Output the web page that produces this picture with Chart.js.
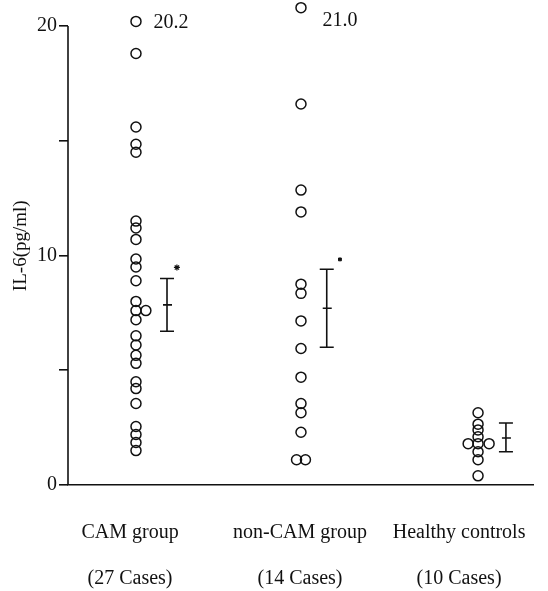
<!DOCTYPE html>
<html>
<head>
<meta charset="utf-8">
<script src="https://cdn.jsdelivr.net/npm/chart.js@4.4.1/dist/chart.umd.min.js"></script>
<style>
    html, body { margin: 0; padding: 0; background: #fff; }
    #wrap { width: 548px; height: 591px; }
</style>
</head>
<body>
<div id="wrap"><canvas id="il6-chart" width="548" height="591"></canvas></div>
<script>
// group names and case counts (x axis)
const groupNames = ['CAM group', 'non-CAM group', 'Healthy controls'];
const groupCases = ['(27 Cases)', '(14 Cases)', '(10 Cases)'];
const labelX = [0.964, 1.994, 2.958];

// IL-6 values (pg/ml)
const camValues = [20.2, 18.8, 15.6, 14.85, 14.5, 11.5, 11.2, 10.7, 9.85, 9.5, 8.9,
    8.0, 7.6, 7.2, 7.6, 6.5, 6.1, 5.65, 5.3, 4.5, 4.2, 3.55, 2.55, 2.2, 1.85, 1.5];
const camShift = [0, 0, 0, 0, 0, 0, 0, 0, 0, 0, 0, 0, 0, 0, 0.06, 0, 0, 0, 0, 0, 0, 0, 0, 0, 0, 0];
const nonCamValues = [20.8, 16.6, 12.85, 11.9, 8.75, 8.35, 7.15, 5.95, 4.7, 3.55, 3.15, 2.3, 1.1, 1.1];
const nonCamShift = [0, 0, 0, 0, 0, 0, 0, 0, 0, 0, 0, 0, -0.027, 0.027];
const healthyValues = [3.15, 2.65, 2.4, 2.1, 1.8, 1.8, 1.8, 1.45, 1.1, 0.4];
const healthyShift = [0, 0, 0, 0, -0.06, 0, 0.067, 0, 0, 0];
const groupX = [1, 2, 3.073];

// mean +- SE bars
const errX = [1.188, 2.156, 3.242];
const meanVals = [7.85, 7.7, 2.05];
const upperVals = [9.0, 9.4, 2.7];
const lowerVals = [6.7, 6.0, 1.45];

// significance marks
const markX = [1.248, 2.236];
const markY = [9.48, 9.83];

// out of range values written next to the top points
const topTextX = [1.212, 2.236];
const topTextY = [20.15, 20.25];
const topTexts = ['20.2', '21.0'];

const yTicks = [0, 5, 10, 15, 20];
const yAxisTop = 20;
const FONT = "'Liberation Serif', 'DejaVu Serif', serif";

function toPoints(values, shift, x) {
    return values.map((v, i) => ({ x: x + shift[i], y: v }));
}

const errorBarPlugin = {
    id: 'errorBars',
    afterDatasetsDraw(chart) {
        const ctx = chart.ctx;
        const xs = chart.scales.x;
        const ys = chart.scales.y;
        ctx.save();
        ctx.strokeStyle = '#111';
        ctx.lineWidth = 1.6;
        // y axis line only up to 20
        ctx.beginPath();
        ctx.moveTo(xs.left, ys.getPixelForValue(0));
        ctx.lineTo(xs.left, ys.getPixelForValue(yAxisTop));
        ctx.stroke();
        for (let i = 0; i < errX.length; i++) {
            const px = xs.getPixelForValue(errX[i]);
            const top = ys.getPixelForValue(upperVals[i]);
            const bot = ys.getPixelForValue(lowerVals[i]);
            const mid = ys.getPixelForValue(meanVals[i]);
            ctx.beginPath();
            ctx.moveTo(px, top); ctx.lineTo(px, bot);
            ctx.moveTo(px - 7, top); ctx.lineTo(px + 7, top);
            ctx.moveTo(px - 7, bot); ctx.lineTo(px + 7, bot);
            ctx.moveTo(px - 4, mid); ctx.lineTo(px + 5, mid);
            ctx.stroke();
        }
        // values above the axis top
        ctx.fillStyle = '#111';
        ctx.font = '20px ' + FONT;
        ctx.textAlign = 'center';
        ctx.textBaseline = 'middle';
        for (let i = 0; i < topTexts.length; i++) {
            ctx.fillText(topTexts[i], xs.getPixelForValue(topTextX[i]), ys.getPixelForValue(topTextY[i]));
        }
        ctx.restore();
    }
};

const circleStyle = {
    pointStyle: 'circle',
    pointRadius: 5,
    pointHoverRadius: 5,
    borderColor: '#111',
    backgroundColor: 'rgba(0,0,0,0)',
    pointBorderWidth: 1.5,
    showLine: false,
    clip: false
};

new Chart(document.getElementById('il6-chart'), {
    type: 'scatter',
    data: {
        datasets: [
            { label: groupNames[0], data: toPoints(camValues, camShift, groupX[0]), ...circleStyle },
            { label: groupNames[1], data: toPoints(nonCamValues, nonCamShift, groupX[1]), ...circleStyle },
            { label: groupNames[2], data: toPoints(healthyValues, healthyShift, groupX[2]), ...circleStyle },
            {
                label: 'marks',
                data: [{ x: markX[0], y: markY[0] }],
                pointStyle: 'star', pointRadius: 3, borderColor: '#111', pointBorderWidth: 1.2, clip: false
            },
            {
                label: 'marks2',
                data: [{ x: markX[1], y: markY[1] }],
                pointStyle: 'rect', pointRadius: 2, borderColor: '#111', backgroundColor: '#111', clip: false
            }
        ]
    },
    options: {
        responsive: false,
        animation: false,
        layout: { padding: { top: 2, right: 15, left: 0, bottom: 0 } },
        plugins: {
            legend: { display: false },
            tooltip: { enabled: false }
        },
        scales: {
            x: {
                type: 'linear',
                min: 0.588,
                max: 3.406,
                afterFit(scale) { scale.height = 106; },
                afterBuildTicks(scale) { scale.ticks = labelX.map(v => ({ value: v })); },
                grid: { display: false },
                border: { display: true, color: '#111', width: 1.6 },
                ticks: {
                    color: '#111',
                    padding: 17,
                    maxRotation: 0,
                    autoSkip: false,
                    font: { family: FONT, size: 20, lineHeight: 2.3 },
                    callback: (value, index) => [groupNames[index], groupCases[index]]
                }
            },
            y: {
                min: 0,
                max: 20.85,
                afterFit(scale) {
                    scale.width = 68;
                    scale.paddingTop = 0;
                    scale.paddingBottom = 0;
                },
                afterBuildTicks(scale) { scale.ticks = yTicks.map(v => ({ value: v })); },
                grid: { drawOnChartArea: false, drawTicks: true, tickLength: 9, color: '#111', lineWidth: 1.6 },
                border: { display: false },
                ticks: {
                    color: '#111',
                    padding: 2,
                    font: { family: FONT, size: 20 },
                    callback: (value) => (value % 10 === 0 ? String(value) : '')
                },
                title: {
                    display: true,
                    text: 'IL-6(pg/ml)',
                    color: '#111',
                    padding: { top: 10, bottom: 0 },
                    font: { family: FONT, size: 19 }
                }
            }
        }
    },
    plugins: [errorBarPlugin]
});
</script>
</body>
</html>
